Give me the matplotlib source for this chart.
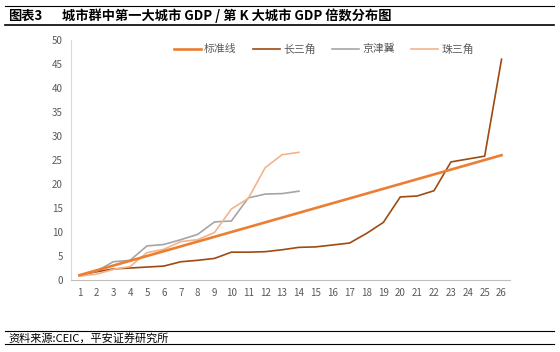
import matplotlib
matplotlib.use("Agg")
import matplotlib.pyplot as plt

plt.rcParams['font.family'] = ['Noto Sans CJK SC', 'DejaVu Sans']

# dati
ranks = list(range(1, 27))
standard = [1, 2, 3, 4, 5, 6, 7, 8, 9, 10, 11, 12, 13, 14, 15, 16, 17, 18, 19, 20,
            21, 22, 23, 24, 25, 26]
yangtze = [1.0, 1.7, 2.3, 2.5, 2.7, 2.9, 3.8, 4.1, 4.5, 5.8, 5.8, 5.9, 6.3, 6.8,
           6.9, 7.3, 7.7, 9.7, 12.0, 17.3, 17.5, 18.6, 24.6, 25.2, 25.8, 46.0]
jingjinji = [1.0, 1.8, 3.8, 4.1, 7.1, 7.4, 8.4, 9.5, 12.1, 12.3, 17.1, 17.9, 18.0, 18.5]
prd = [0.8, 1.2, 2.2, 2.8, 5.7, 6.4, 8.0, 8.4, 9.9, 14.8, 17.0, 23.4, 26.1, 26.6]
series_names = ["标准线", "长三角", "京津冀", "珠三角"]
yticks = [0, 5, 10, 15, 20, 25, 30, 35, 40, 45, 50]

W, H = 560, 352
fig = plt.figure(figsize=(W / 100, H / 100), dpi=100)
ax = fig.add_axes([71 / W, (H - 280) / H, (510 - 71) / W, (280 - 40) / H])

ax.plot(ranks, yangtze, color="#9E4A12", lw=1.2, label=series_names[1], zorder=2)
ax.plot(ranks[:len(jingjinji)], jingjinji, color="#A5A5A5", lw=1.2,
        label=series_names[2], zorder=2)
ax.plot(ranks[:len(prd)], prd, color="#F4B48A", lw=1.2, label=series_names[3], zorder=2)
ax.plot(ranks, standard, color="#EB7E33", lw=1.9, label=series_names[0], zorder=3)

ax.set_xlim(0.5, 26.5)
ax.set_ylim(0, 50)
ax.set_xticks(ranks)
ax.set_xticklabels([str(r) for r in ranks])
ax.set_yticks(yticks)
ax.tick_params(length=0, labelsize=7, colors="#595959", pad=6)

for side in ["top", "right"]:
    ax.spines[side].set_visible(False)
ax.spines["left"].set_color("#D9D9D9")
ax.spines["bottom"].set_color("#BFBFBF")

# legenda nell'ordine originale
handles, labels = ax.get_legend_handles_labels()
order = [3, 0, 1, 2]
fig.legend([handles[i] for i in order], [labels[i] for i in order],
           loc="center left", bbox_to_anchor=(164 / W, 1 - 49 / H), ncol=4,
           frameon=False, fontsize=7.8, handlelength=2.5, columnspacing=1.5,
           handletextpad=0.3, labelcolor="#595959")

# titolo e cornici
fig.text(8 / W, 1 - 16 / H, "图表3", fontsize=9.5, fontweight="bold", va="center")
fig.text(62 / W, 1 - 16 / H, "城市群中第一大城市 GDP / 第 K 大城市 GDP 倍数分布图",
         fontsize=9.5, fontweight="bold", va="center")
fig.add_artist(plt.Line2D([5 / W, 554 / W], [1 - 6 / H, 1 - 6 / H], color="black", lw=0.8))
fig.add_artist(plt.Line2D([5 / W, 554 / W], [1 - 25 / H, 1 - 25 / H], color="black", lw=1.2))
fig.add_artist(plt.Line2D([5 / W, 554 / W], [1 - 331 / H, 1 - 331 / H], color="black", lw=0.8))
fig.add_artist(plt.Line2D([5 / W, 554 / W], [1 - 344 / H, 1 - 344 / H], color="black", lw=0.8))
fig.text(8 / W, 1 - 338 / H, "资料来源:CEIC，平安证券研究所", fontsize=8, style="italic",
         va="center")

fig.savefig("out.png", dpi=100)
